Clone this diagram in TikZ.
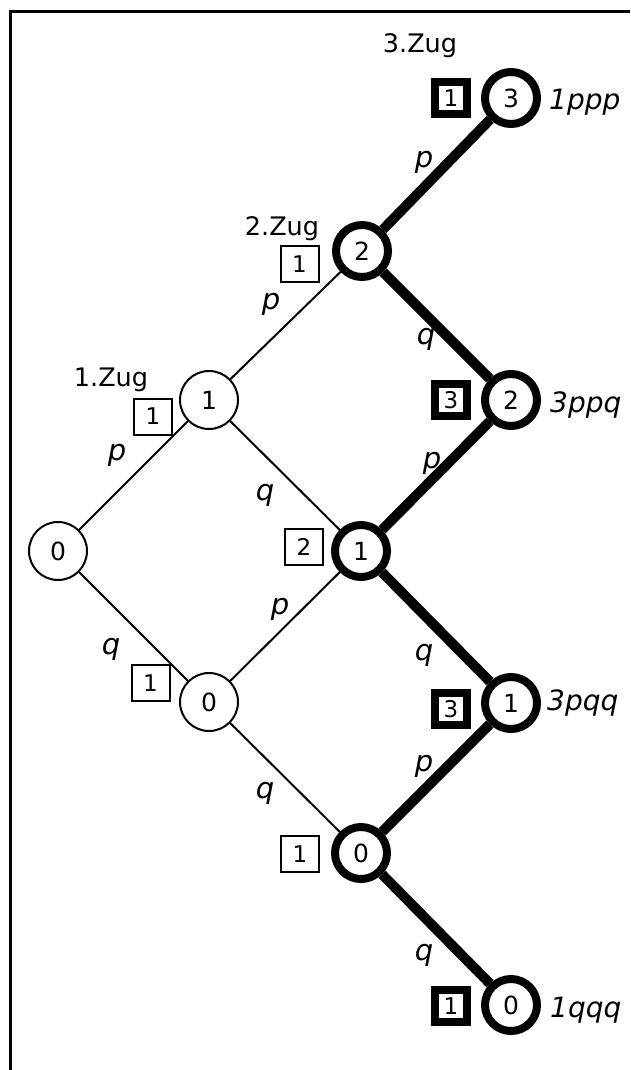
\documentclass[tikz,border=0pt]{standalone}
\usepackage{fontspec}
\setmainfont{DejaVu Sans}
\begin{document}
\begin{tikzpicture}[x=1pt,y=-1pt,
  thinnode/.style={circle,draw,line width=2pt,minimum size=58pt,inner sep=0pt,font=\fontsize{25}{25}\selectfont},
  boldnode/.style={circle,draw,line width=8pt,minimum size=52pt,inner sep=0pt,font=\fontsize{25}{25}\selectfont},
  thinbox/.style={rectangle,draw,line width=2pt,minimum width=38pt,minimum height=36pt,inner sep=0pt,font=\fontsize{23}{23}\selectfont},
  boldbox/.style={rectangle,draw,line width=8pt,minimum size=32pt,inner sep=0pt,font=\fontsize{23}{23}\selectfont},
  thinedge/.style={line width=2pt},
  boldedge/.style={line width=10pt},
  prob/.style={font=\fontsize{29}{29}\selectfont\itshape,inner sep=0pt},
  result/.style={font=\fontsize{28}{28}\selectfont\itshape,inner sep=0pt,anchor=base west},
  zug/.style={font=\fontsize{25.5}{25.5}\selectfont,inner sep=0pt,anchor=base}
]
\useasboundingbox (0,0) rectangle (630,1070);
% frame
\draw[line width=2.6pt] (630,11.5) -- (10.5,11.5) -- (10.5,1070);

% tree nodes
\node[thinnode] (n0) at (58,551) {0};
\node[thinnode] (a1) at (209,400) {1};
\node[thinnode] (a0) at (209,702) {0};
\node[boldnode] (b2) at (362,251) {2};
\node[boldnode] (b1) at (361,551) {1};
\node[boldnode] (b0) at (361,853) {0};
\node[boldnode] (c3) at (511,98) {3};
\node[boldnode] (c2) at (511,400) {2};
\node[boldnode] (c1) at (511,703) {1};
\node[boldnode] (c0) at (511,1005) {0};

% count boxes
\node[thinbox] (ka1) at (153,416.5) {1};
\node[thinbox] (ka0) at (150.5,683) {1};
\node[thinbox] (kb2) at (299.5,264) {1};
\node[thinbox] (kb1) at (304,547) {2};
\node[thinbox] (kb0) at (300,854) {1};
\node[boldbox] (kc3) at (451,98.5) {1};
\node[boldbox] (kc2) at (451,400) {3};
\node[boldbox] (kc1) at (451,709) {3};
\node[boldbox] (kc0) at (451,1006) {1};

% edges
\draw[thinedge] (n0) -- (a1);
\draw[thinedge] (n0) -- (a0);
\draw[thinedge] (a1) -- (b2);
\draw[thinedge] (a1) -- (b1);
\draw[thinedge] (a0) -- (b1);
\draw[thinedge] (a0) -- (b0);
\draw[boldedge] (b2) -- (c3);
\draw[boldedge] (b2) -- (c2);
\draw[boldedge] (b1) -- (c2);
\draw[boldedge] (b1) -- (c1);
\draw[boldedge] (b0) -- (c1);
\draw[boldedge] (b0) -- (c0);

% edge labels
\node[prob] (l1) at (117,455) {p};
\node[prob] (l2) at (111,649) {q};
\node[prob] (l3) at (271,304) {p};
\node[prob] (l4) at (265,495) {q};
\node[prob] (l5) at (280,609) {p};
\node[prob] (l6) at (265,793) {q};
\node[prob] (l7) at (424,162) {p};
\node[prob] (l8) at (426,339) {q};
\node[prob] (l9) at (432,463) {p};
\node[prob] (l10) at (424,655) {q};
\node[prob] (l11) at (424,766) {p};
\node[prob] (l12) at (424,955) {q};

% results
\node[result] (r3) at (549,110) {1ppp};
\node[result] (r2) at (550,412) {3ppq};
\node[result] (r1) at (547,710) {3pqq};
\node[result] (r0) at (550,1017) {1qqq};

% move labels
\node[zug] (z1) at (111,386) {1.Zug};
\node[zug] (z2) at (282,235) {2.Zug};
\node[zug] (z3) at (420,53) {3.Zug};
\end{tikzpicture}
\end{document}
